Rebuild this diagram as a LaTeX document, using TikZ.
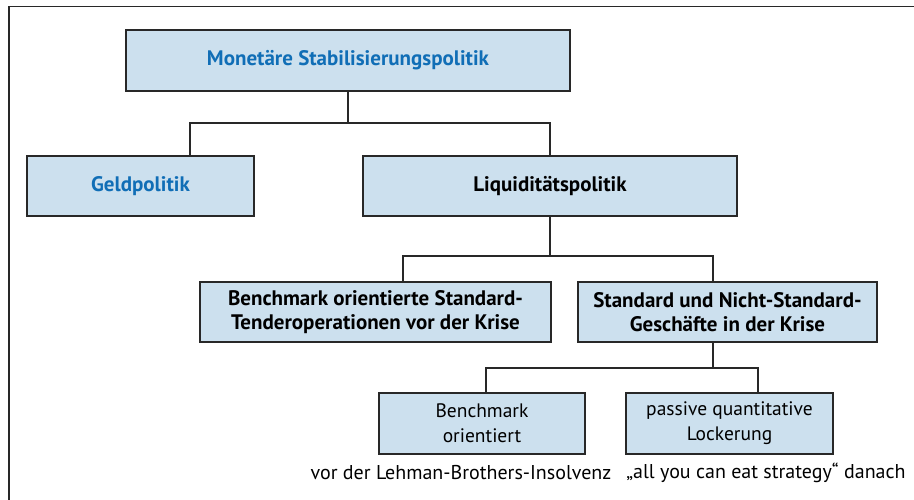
\documentclass[tikz,border=0pt]{standalone}
\usepackage{fontspec}
\setmainfont{PT Sans}
\definecolor{boxfill}{RGB}{204,224,238}
\definecolor{titleblue}{RGB}{16,110,182}
\definecolor{linegray}{RGB}{40,40,40}
\begin{document}
\begin{tikzpicture}[x=1pt,y=-1pt,
  box/.style={draw=linegray, line width=1.4pt, fill=boxfill, inner sep=0pt, align=center, font=\fontsize{21}{24}\selectfont\bfseries},
  lbox/.style={box, font=\fontsize{19.5}{25}\selectfont},
  conn/.style={draw=linegray, line width=1.2pt},
  lab/.style={font=\fontsize{20}{22}\selectfont, inner sep=0pt}]
\useasboundingbox (0,0) rectangle (914,500);
% outer frame (open at right and bottom)
\draw[linegray, line width=1.4pt] (9,500) -- (9,6.5) -- (914,6.5);
% boxes
\node[box, minimum width=444pt, minimum height=61pt, text=titleblue] (top) at (348,60.5) {Monetäre Stabilisierungspolitik};
\node[box, minimum width=227pt, minimum height=60pt, text=titleblue] (geld) at (140.5,186) {Geldpolitik};
\node[box, minimum width=374pt, minimum height=60pt] (liq) at (550,186) {Liquiditätspolitik};
\node[box, minimum width=351pt, minimum height=60pt] (bench) at (375.5,312) {Benchmark orientierte Standard-\\Tenderoperationen vor der Krise};
\node[box, minimum width=299pt, minimum height=60pt] (std) at (727.5,312) {Standard und Nicht-Standard-\\Geschäfte in der Krise};
\node[lbox, minimum width=206pt, minimum height=61pt] (bl) at (482,423.5) {Benchmark\\orientiert};
\node[lbox, minimum width=207pt, minimum height=61pt] (br) at (729.5,423.5) {passive quantitative\\Lockerung};
% labels
\node[lab] (l1) at (461,473) {vor der Lehman-Brothers-Insolvenz};
\node[lab] (l2) at (766,473) {„all you can eat strategy“ danach};
% junctions
\coordinate (j1) at (348,123);
\coordinate (j2) at (550,256);
\coordinate (j3) at (713,368);
% connectors
\draw[conn] (top.south) -- (j1);
\draw[conn] ([xshift=49.5pt]geld.north) |- (j1) -| (liq.north);
\draw[conn] (liq.south) -- (j2);
\draw[conn] ([xshift=27.5pt]bench.north) |- (j2) -| ([xshift=-14.5pt]std.north);
\draw[conn] ([xshift=-14.5pt]std.south) -- (j3);
\draw[conn] ([xshift=4pt]bl.north) |- (j3) -| ([xshift=28.5pt]br.north);
\end{tikzpicture}
\end{document}
